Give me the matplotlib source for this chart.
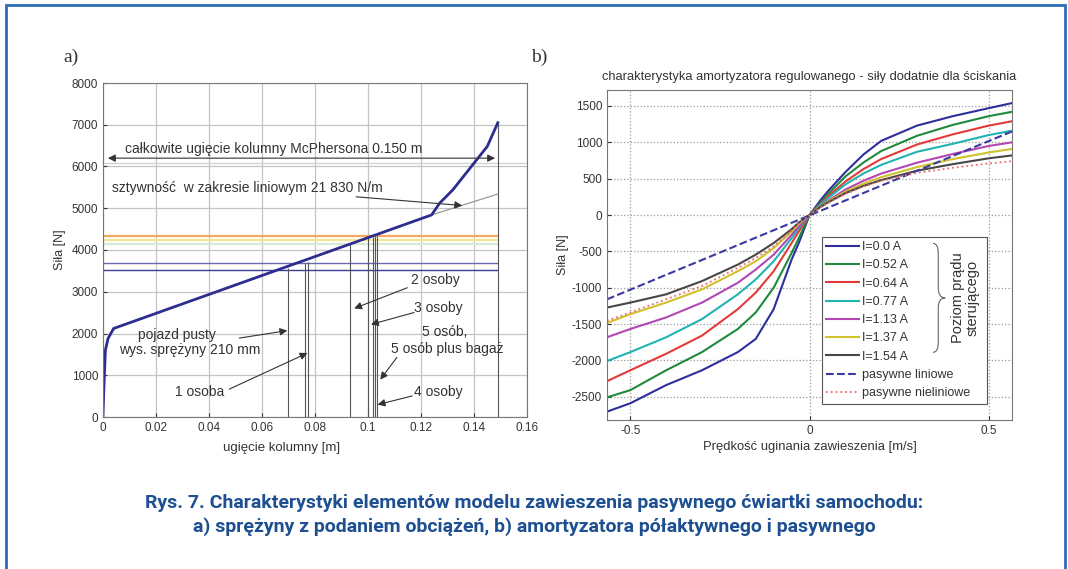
import matplotlib
matplotlib.use("Agg")
import matplotlib.pyplot as plt
from matplotlib.path import Path
from matplotlib.patches import PathPatch, Rectangle

plt.rcParams["font.family"] = ["Liberation Sans", "DejaVu Sans"]
plt.rcParams["axes.unicode_minus"] = False

# ---------- data: a) spring characteristic ----------
spring_x = [0.0, 0.0003, 0.0009, 0.0019, 0.004, 0.124, 0.127, 0.132, 0.140, 0.145, 0.149]
spring_f = [40, 640, 1600, 1880, 2120, 4840, 5120, 5440, 6080, 6480, 7050]

# linear stiffness extension beyond the knee
lin_x = [0.124, 0.149]
lin_f = [4840, 5340]

# load levels (horizontal lines)
load_levels = [3530, 3690, 4150, 4250, 4330]
load_colors = ["#3b3b95", "#6a6ab0", "#d6ead6", "#f2e59a", "#f4a860"]

# deflections for loads (vertical lines) and their tops
defl_x = [0.0699, 0.0762, 0.0775, 0.0932, 0.1001, 0.1018, 0.1026, 0.1035, 0.149]
defl_top = [3560, 3700, 3720, 4160, 4300, 4320, 4330, 4340, 7050]

# ---------- data: b) damper characteristic ----------
vel = [-0.565, -0.5, -0.4, -0.3, -0.2, -0.15, -0.1, -0.05, -0.03, 0.0,
       0.03, 0.05, 0.1, 0.15, 0.2, 0.3, 0.4, 0.5, 0.565]
f_i000 = [-2705, -2590, -2340, -2136, -1886, -1705, -1295, -614, -386, 0,
          200, 320, 590, 830, 1020, 1230, 1360, 1470, 1540]
f_i052 = [-2509, -2409, -2136, -1886, -1568, -1341, -1000, -523, -318, 0,
          170, 280, 530, 720, 880, 1090, 1240, 1360, 1420]
f_i064 = [-2286, -2136, -1909, -1659, -1295, -1068, -773, -386, -227, 0,
          150, 250, 460, 630, 770, 970, 1110, 1230, 1290]
f_i077 = [-2009, -1886, -1682, -1432, -1091, -886, -636, -318, -182, 0,
          140, 225, 420, 570, 690, 870, 980, 1100, 1160]
f_i113 = [-1682, -1568, -1409, -1205, -932, -750, -545, -273, -159, 0,
          120, 190, 350, 470, 570, 720, 840, 950, 1000]
f_i137 = [-1486, -1364, -1205, -1023, -773, -636, -455, -227, -123, 0,
          115, 180, 320, 430, 520, 660, 770, 860, 910]
f_i154 = [-1273, -1205, -1091, -909, -682, -545, -386, -195, -105, 0,
          110, 170, 300, 400, 480, 610, 700, 780, 820]
f_pas_nonlin = [-1455, -1341, -1159, -977, -727, -591, -432, -214, -114, 0,
                100, 160, 290, 390, 470, 580, 650, 710, 740]
vel_lin = [-0.565, 0.565]
f_pas_lin = [-1160, 1150]

damper_series = [f_i000, f_i052, f_i064, f_i077, f_i113, f_i137, f_i154]
damper_labels = ["I=0.0 A", "I=0.52 A", "I=0.64 A", "I=0.77 A",
                 "I=1.13 A", "I=1.37 A", "I=1.54 A"]
damper_colors = ["#2e2e9c", "#1f8a3c", "#e23a3a", "#22b3b3",
                 "#b347b3", "#cfc22a", "#474747"]

TXT = "#333333"

fig = plt.figure(figsize=(10.68, 5.69), dpi=100)

# outer blue frame (bottom edge lies below the image)
fig.patches.append(Rectangle((6 / 1068, -0.2), 1059 / 1068, 1.2 - 5 / 569,
                             transform=fig.transFigure, fill=False,
                             edgecolor="#2d6db5", lw=2))

# ---------- a) ----------
ax1 = fig.add_axes([103 / 1068, 1 - 417 / 569, 424 / 1068, 334 / 569])
ax1.set_xlim(0, 0.16)
ax1.set_ylim(0, 8000)
ax1.set_xticks([0, 0.02, 0.04, 0.06, 0.08, 0.1, 0.12, 0.14, 0.16])
ax1.set_xticklabels(["0", "0.02", "0.04", "0.06", "0.08", "0.1", "0.12", "0.14", "0.16"])
ax1.set_yticks(range(0, 8001, 1000))
ax1.grid(True, color="#c4c4c4", lw=0.9)
ax1.set_axisbelow(True)
ax1.tick_params(direction="in", labelsize=8.5, colors=TXT, length=3)
for s in ax1.spines.values():
    s.set_color("#777777")

ax1.axhline(6080, color="#cfcfcf", lw=0.9)
for lvl, col in zip(load_levels, load_colors):
    ax1.hlines(lvl, 0, 0.149, color=col, lw=1.6 if lvl > 4000 else 1.0)
ax1.vlines(defl_x, 0, defl_top, color="#555555", lw=0.8)
ax1.plot(lin_x, lin_f, color="#9a9a9a", lw=0.9)
ax1.plot(spring_x, spring_f, color="#2d2d8f", lw=2)

ax1.set_xlabel("ugięcie kolumny [m]", fontsize=9.5, color=TXT, labelpad=3)
ax1.xaxis.set_label_coords(0.422, -0.075)
ax1.set_ylabel("Siła [N]", fontsize=9, color=TXT, labelpad=4)

arrow = dict(arrowstyle="-|>", color="#333333", lw=0.8, mutation_scale=11)
fs = 10
ax1.annotate("", xy=(0.0008, 6200), xytext=(0.149, 6200),
             arrowprops=dict(arrowstyle="<|-|>", color="#333333", lw=0.8, mutation_scale=11))
ax1.text(0.0643, 6420, "całkowite ugięcie kolumny McPhersona 0.150 m",
         ha="center", va="center", fontsize=fs, color=TXT)
ax1.text(0.0033, 5480, "sztywność  w zakresie liniowym 21 830 N/m",
         ha="left", va="center", fontsize=fs, color=TXT)
ax1.annotate("", xy=(0.1366, 5060), xytext=(0.0945, 5280), arrowprops=arrow)
ax1.text(0.0278, 1960, "pojazd pusty", ha="center", va="center", fontsize=fs, color=TXT)
ax1.text(0.0328, 1600, "wys. sprężyny 210 mm", ha="center", va="center", fontsize=fs, color=TXT)
ax1.annotate("", xy=(0.0706, 2080), xytext=(0.0504, 1880), arrowprops=arrow)
ax1.text(0.0366, 600, "1 osoba", ha="center", va="center", fontsize=fs, color=TXT)
ax1.annotate("", xy=(0.0781, 1560), xytext=(0.0467, 640), arrowprops=arrow)
ax1.text(0.1253, 3280, "2 osoby", ha="center", va="center", fontsize=fs, color=TXT)
ax1.annotate("", xy=(0.0938, 2576), xytext=(0.1158, 3120), arrowprops=arrow)
ax1.text(0.1265, 2600, "3 osoby", ha="center", va="center", fontsize=fs, color=TXT)
ax1.annotate("", xy=(0.1001, 2200), xytext=(0.1184, 2520), arrowprops=arrow)
ax1.text(0.129, 2040, "5 osób,", ha="center", va="center", fontsize=fs, color=TXT)
ax1.text(0.130, 1640, "5 osób plus bagaż", ha="center", va="center", fontsize=fs, color=TXT)
ax1.annotate("", xy=(0.1040, 840), xytext=(0.1115, 1480), arrowprops=arrow)
ax1.text(0.1265, 600, "4 osoby", ha="center", va="center", fontsize=fs, color=TXT)
ax1.annotate("", xy=(0.1026, 280), xytext=(0.1177, 520), arrowprops=arrow)

fig.text(63 / 1068, 1 - 57 / 569, "a)", family="Liberation Serif", fontsize=14,
         color="#333333", va="center")
fig.text(531 / 1068, 1 - 57 / 569, "b)", family="Liberation Serif", fontsize=14,
         color="#333333", va="center")

# ---------- b) ----------
ax2 = fig.add_axes([607 / 1068, 1 - 420 / 569, 405 / 1068, 330 / 569])
ax2.set_xlim(-0.565, 0.565)
ax2.set_ylim(-2820, 1720)
ax2.set_xticks([-0.5, 0, 0.5])
ax2.set_xticklabels(["-0.5", "0", "0.5"])
ax2.set_yticks(range(-2500, 1501, 500))
ax2.grid(True, color="#9a9a9a", lw=0.9, ls=":")
ax2.set_axisbelow(True)
ax2.tick_params(direction="in", labelsize=8.5, colors=TXT, length=3)
for s in ax2.spines.values():
    s.set_color("#777777")

for f, lab, col in zip(damper_series, damper_labels, damper_colors):
    ax2.plot(vel, f, color=col, lw=1.5, label=lab)
ax2.plot(vel_lin, f_pas_lin, color="#3a3aa0", lw=1.5, ls="--", label="pasywne liniowe")
ax2.plot(vel, f_pas_nonlin, color="#ee6a6a", lw=1.3, ls=":", label="pasywne nieliniowe")

ax2.set_title("charakterystyka amortyzatora regulowanego - siły dodatnie dla ściskania",
              fontsize=9.3, color=TXT, pad=7)
ax2.set_xlabel("Prędkość uginania zawieszenia [m/s]", fontsize=9.4, color=TXT, labelpad=3)
ax2.set_ylabel("Siła [N]", fontsize=9, color=TXT, labelpad=2)

leg = ax2.legend(loc="lower left", bbox_to_anchor=(0.53, 0.05, 0.408, 0.5),
                 mode="expand", fontsize=9, handlelength=2.6, handletextpad=0.3,
                 labelspacing=0.5, borderpad=0.35, borderaxespad=0, fancybox=False,
                 edgecolor="#555555", framealpha=1)
leg.get_frame().set_linewidth(0.8)
for t in leg.get_texts():
    t.set_color(TXT)

# curly brace next to the current-level entries
xl, xm, xr = 0.805, 0.818, 0.835
yt, ymid, yb = 0.535, 0.37, 0.205
d = 0.03
verts = [(xl, yt), (xm, yt), (xm, yt - d), (xm, ymid + d), (xm, ymid), (xr, ymid),
         (xm, ymid), (xm, ymid - d), (xm, yb + d), (xm, yb), (xl, yb)]
codes = [Path.MOVETO, Path.CURVE3, Path.CURVE3, Path.LINETO, Path.CURVE3, Path.CURVE3,
         Path.CURVE3, Path.CURVE3, Path.LINETO, Path.CURVE3, Path.CURVE3]
ax2.add_patch(PathPatch(Path(verts, codes), transform=ax2.transAxes, fill=False,
                        edgecolor="#666666", lw=0.8, zorder=10))
ax2.text(0.885, 0.37, "Poziom prądu\nsterującego", transform=ax2.transAxes,
         rotation=90, ha="center", va="center", fontsize=10.5, color=TXT,
         linespacing=1.0, zorder=10)

# ---------- caption ----------
cap = "#1d4f91"
fig.text(0.5, 1 - 503 / 569,
         "Rys. 7. Charakterystyki elementów modelu zawieszenia pasywnego ćwiartki samochodu:",
         ha="center", va="center", fontsize=14, fontweight="bold", color=cap,
         family="Roboto")
fig.text(0.5, 1 - 527 / 569,
         "a) sprężyny z podaniem obciążeń, b) amortyzatora półaktywnego i pasywnego",
         ha="center", va="center", fontsize=14, fontweight="bold", color=cap,
         family="Roboto")

fig.savefig("out.png", dpi=100)
